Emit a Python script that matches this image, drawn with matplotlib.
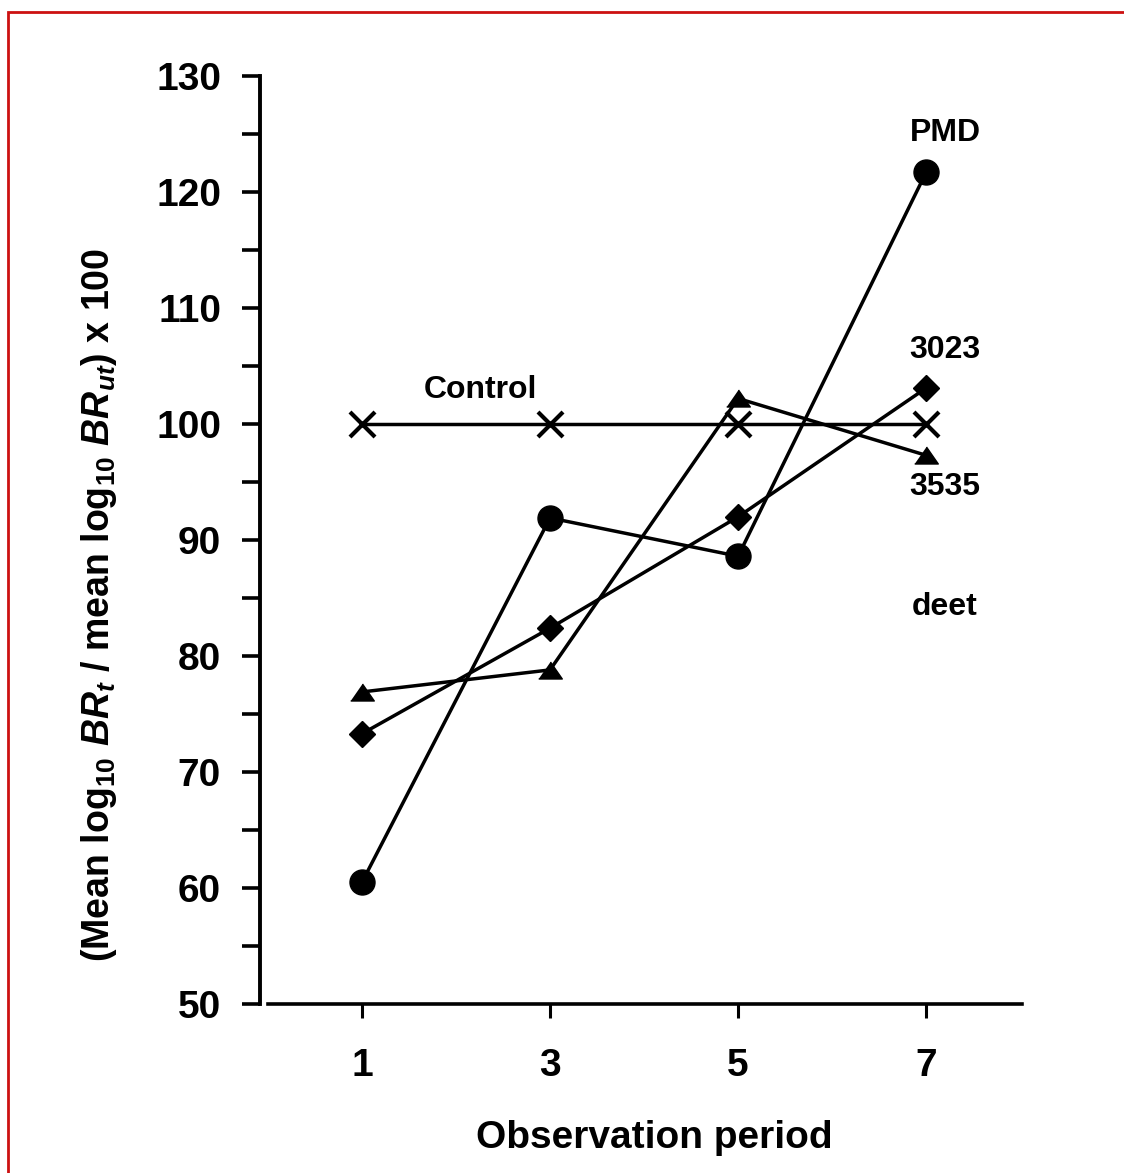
import matplotlib
matplotlib.use("Agg")
import matplotlib.pyplot as plt
from matplotlib.patches import Rectangle

plt.rcParams['font.family'] = ['Liberation Sans', 'DejaVu Sans']
plt.rcParams['font.weight'] = 'bold'
plt.rcParams['mathtext.fontset'] = 'custom'
plt.rcParams['mathtext.rm'] = 'Liberation Sans:bold'
plt.rcParams['mathtext.it'] = 'Liberation Sans:italic:bold'
plt.rcParams['mathtext.default'] = 'regular'

# Observation periods and the four series
periods = [1, 3, 5, 7]
control = [100, 100, 100, 100]
pmd = [60.5, 91.9, 88.6, 121.7]
ir3023 = [73.3, 82.4, 92.0, 103.1]
ir3535 = [76.9, 78.8, 102.2, 97.3]

# series labels placed near the right end of the lines
label_names = ["PMD", "3023", "3535", "deet", "Control"]
label_x = [7.2, 7.2, 7.2, 7.2, 2.26]
label_y = [125.1, 106.4, 94.6, 84.2, 102.9]

fig = plt.figure(figsize=(11.24, 11.73), dpi=100)
ax = fig.add_axes([0.2313, 0.1441, 0.678, 0.7911])

lw = 2.5
flat_tri = [(-1, -0.72), (1, -0.72), (0, 0.72)]
ax.plot(periods, control, color='black', lw=lw, marker='x', ms=18, mew=3.0)
ax.plot(periods, pmd, color='black', lw=lw, marker='o', ms=18)
ax.plot(periods, ir3023, color='black', lw=lw, marker='D', ms=13)
ax.plot(periods, ir3535, color='black', lw=lw, marker=flat_tri, ms=17)

for name, x, y in zip(label_names, label_x, label_y):
    ax.text(x, y, name, ha='center', va='center', fontsize=23, fontweight='bold')

ax.set_xlim(-0.085, 8.02)
ax.set_ylim(50, 130)
ax.set_xticks(periods)
ax.set_yticks(range(50, 131, 10))
ax.set_yticks(range(55, 130, 10), minor=True)

for s in ['top', 'right']:
    ax.spines[s].set_visible(False)
ax.spines['left'].set_linewidth(2.8)
ax.spines['bottom'].set_linewidth(2.6)
ax.spines['bottom'].set_bounds(0.0, 8.02)

ax.tick_params(axis='y', which='both', direction='out', length=13, width=2.6,
               labelsize=28, pad=15)
ax.tick_params(axis='x', direction='out', length=10, width=2.2, labelsize=28, pad=22)
for lab in ax.get_xticklabels() + ax.get_yticklabels():
    lab.set_fontweight('bold')

ax.set_xlabel("Observation period", fontsize=28, fontweight='bold')
ax.xaxis.set_label_coords(0.518, -0.125)
ax.set_ylabel(r"(Mean log$_{10}$ $\mathit{BR}_{\mathit{t}}$ / mean log$_{10}$ $\mathit{BR}_{\mathit{ut}}$) x 100",
              fontsize=27, fontweight='bold')
ax.yaxis.set_label_coords(-0.185, 0.43)

# red frame around the figure
fig.patches.append(Rectangle((0.007, -0.02), 1.1, 1.0098, transform=fig.transFigure,
                             fill=False, edgecolor='#cc1111', lw=2.0))

fig.savefig("out.png", dpi=100)
